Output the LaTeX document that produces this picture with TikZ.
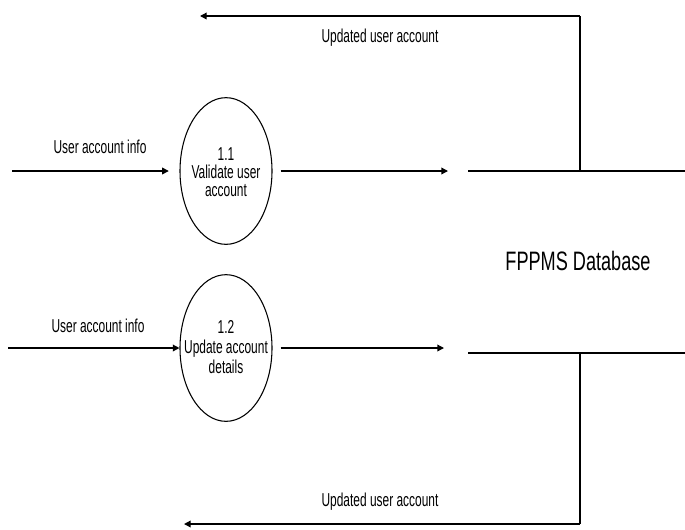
\documentclass[tikz,border=0pt]{standalone}
\usepackage{fontspec}
\setmainfont{Liberation Sans}[FakeStretch=0.64]
\newfontfamily\dbfont{Liberation Sans}[FakeStretch=0.68]
\usetikzlibrary{shapes.geometric,arrows.meta}
\begin{document}
\begin{tikzpicture}[x=0.75pt,y=-0.75pt,
  proc/.style={ellipse,draw,line width=0.8pt,minimum width=69pt,minimum height=110pt,inner sep=0pt},
  flow/.style={line width=1pt,-{Triangle[length=5pt,width=5pt]}},
  plain/.style={line width=1pt},
  vline/.style={line width=0.8pt},
  lbl/.style={font=\fontsize{14}{16}\selectfont,inner sep=0pt},
  ptxta/.style={font=\fontsize{14}{13.5}\selectfont,align=center,inner sep=0pt},
  ptxtb/.style={font=\fontsize{14}{15}\selectfont,align=center,inner sep=0pt},
  dbtxt/.style={font=\dbfont\fontsize{20}{22}\selectfont,inner sep=0pt}]
\useasboundingbox (0,0) rectangle (685,529);

% processes
\node[proc] (p1) at (226,171) {};
\node[ptxta] (t1) at ([yshift=-1]p1.center) {1.1\\Validate user\\account};
\node[proc] (p2) at (226,348) {};
\node[ptxtb] (t2) at ([yshift=1]p2.center) {1.2\\Update account\\details};

% data store
\coordinate (d1a) at (468,171);
\coordinate (d1b) at (685,171);
\coordinate (d2a) at (468,353);
\coordinate (d2b) at (685,353);
\coordinate (j1) at (580,171);
\coordinate (j2) at (580,353);
\node[dbtxt] (db) at (578,261) {FPPMS Database};
\draw[plain] (d1a) -- (d1b);
\draw[plain] (d2a) -- (d2b);

% inputs
\coordinate (in1) at (12,171);
\coordinate (in2) at (8,348);
\draw[flow,shorten >=8pt] (in1) -- (p1.west);
\draw[flow] (in2) -- (p2.west);
\node[lbl] (l1) at (100,147) {User account info};
\node[lbl] (l2) at (98,326) {User account info};

% outputs to store
\coordinate (o1) at (448,171);
\coordinate (o2) at (444,348);
\draw[flow] (p1.east) ++(8,0) coordinate (s1) -- (o1);
\draw[flow] (p2.east) ++(8,0) coordinate (s2) -- (o2);

% feedback flows
\coordinate (c1) at (580,16);
\coordinate (e1) at (200,16);
\coordinate (c2) at (580,524);
\coordinate (e2) at (184,524);
\draw[vline] (j1) -- (c1);
\draw[flow] (c1) -- (e1);
\draw[vline] (j2) -- (c2);
\draw[flow] (c2) -- (e2);
\node[lbl] (u1) at (380,38) {Updated user account};
\node[lbl] (u2) at (380,502) {Updated user account};
\end{tikzpicture}
\end{document}
